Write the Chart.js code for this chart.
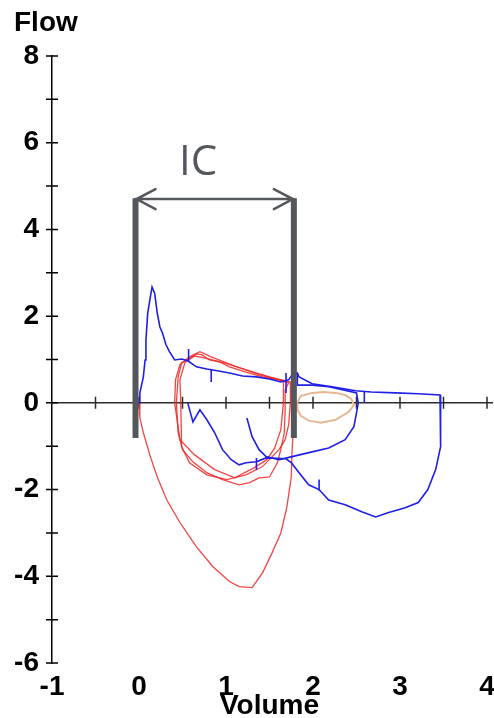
<!DOCTYPE html>
<html>
<head>
<meta charset="utf-8">
<title>Flow / Volume</title>
<script src="https://cdn.jsdelivr.net/npm/chart.js@4/dist/chart.umd.min.js"></script>
<style>
    html, body { margin: 0; padding: 0; background: #fff; }
    #wrap { width: 494px; height: 718px; }
</style>
</head>
<body>
<div id="wrap"><canvas id="loopChart" width="494" height="718"></canvas></div>
<script>
// Loops as [volume, flow] pairs
const blueMainLoop = [
    [0.00, 0.00], [0.01, 0.23], [0.05, 0.60], [0.07, 0.99], [0.08, 1.45], [0.10, 2.07],
    [0.13, 2.44], [0.15, 2.67], [0.18, 2.53], [0.21, 2.07], [0.24, 1.75], [0.27, 1.61],
    [0.31, 1.34], [0.35, 1.18], [0.41, 0.99], [0.49, 1.01], [0.56, 0.97], [0.66, 0.83],
    [0.78, 0.78], [0.90, 0.74], [1.04, 0.69], [1.19, 0.62], [1.35, 0.60], [1.50, 0.55],
    [1.63, 0.48], [1.72, 0.53], [1.76, 0.65], [1.82, 0.69], [1.84, 0.60], [1.99, 0.44],
    [2.22, 0.37], [2.49, 0.28], [2.67, 0.25], [2.95, 0.23], [3.21, 0.21], [3.46, 0.18],
    [3.47, 0.00], [3.47, -0.51], [3.46, -1.01], [3.41, -1.54], [3.32, -2.00], [3.21, -2.30],
    [3.06, -2.42], [2.87, -2.53], [2.72, -2.63], [2.56, -2.51], [2.37, -2.35], [2.18, -2.24],
    [2.07, -2.00], [1.95, -1.89], [1.84, -1.61], [1.75, -1.38], [1.69, -1.29], [1.46, -1.27],
    [1.35, -1.36], [1.23, -1.38], [1.15, -1.43], [1.06, -1.31], [0.96, -1.08], [0.87, -0.69],
    [0.78, -0.39], [0.70, -0.16], [0.62, -0.44], [0.56, 0.00]
];
const blueSmallLoop = [
    [1.24, -0.35], [1.30, -0.78], [1.38, -1.08], [1.46, -1.24], [1.61, -1.31], [1.76, -1.24],
    [1.99, -1.13], [2.18, -1.04], [2.37, -0.85], [2.47, -0.55], [2.50, -0.23], [2.52, 0.00],
    [2.50, 0.23], [2.35, 0.30], [2.18, 0.37], [1.99, 0.41], [1.82, 0.41], [1.82, 0.69]
];
// short vertical marks on the blue trace, null breaks the line between them
const blueMarks = [
    [0.57, 1.24], [0.57, 0.94], null,
    [0.83, 0.76], [0.83, 0.48], null,
    [1.35, -1.27], [1.35, -1.54], null,
    [2.07, -1.77], [2.07, -2.03], null,
    [2.59, 0.25], [2.59, 0.00], null,
    [1.69, 0.69], [1.69, 0.23]
];
const redLargeLoop = [
    [0.00, 0.00], [0.01, -0.35], [0.05, -0.69], [0.13, -1.24], [0.21, -1.71], [0.32, -2.24],
    [0.47, -2.76], [0.66, -3.32], [0.85, -3.78], [1.04, -4.12], [1.15, -4.24], [1.30, -4.26],
    [1.42, -3.92], [1.53, -3.46], [1.63, -3.00], [1.70, -2.40], [1.75, -1.71], [1.76, -1.08],
    [1.78, -0.39], [1.78, 0.00], [1.77, 0.41]
];
const redLoopA = [
    [0.43, 0.00], [0.45, 0.60], [0.49, 0.92], [0.55, 0.99], [0.66, 1.13], [0.72, 1.11],
    [0.81, 0.99], [0.93, 0.94], [1.04, 0.83], [1.23, 0.71], [1.42, 0.60], [1.61, 0.53],
    [1.72, 0.46], [1.68, 0.30], [1.68, -0.16], [1.67, -0.69], [1.63, -1.08], [1.59, -1.38],
    [1.50, -1.71], [1.38, -1.73], [1.27, -1.84], [1.15, -1.89], [0.96, -1.77], [0.78, -1.61],
    [0.62, -1.36], [0.50, -1.08], [0.45, -0.69], [0.43, 0.00]
];
const redLoopB = [
    [0.48, 0.00], [0.47, 0.53], [0.53, 0.94], [0.64, 1.08], [0.75, 1.04], [0.98, 0.92],
    [1.27, 0.74], [1.50, 0.60], [1.74, 0.48], [1.74, 0.00], [1.72, -0.51], [1.68, -0.85],
    [1.61, -1.08], [1.55, -1.20], [1.42, -1.47], [1.23, -1.66], [1.01, -1.77], [0.78, -1.66],
    [0.58, -1.38], [0.49, -1.01], [0.48, 0.00]
];
const redLoopC = [
    [0.41, 0.00], [0.42, 0.53], [0.47, 0.88], [0.58, 1.06], [0.70, 1.18], [0.83, 1.06],
    [1.10, 0.85], [1.38, 0.65], [1.66, 0.51], [1.66, 0.00], [1.63, -0.62], [1.56, -1.04],
    [1.47, -1.31], [1.32, -1.50], [1.10, -1.73], [0.87, -1.54], [0.64, -1.20], [0.47, -0.85],
    [0.41, 0.00]
];
const orangeLoop = [
    [1.82, 0.00], [1.86, 0.16], [1.99, 0.23], [2.12, 0.25], [2.26, 0.23], [2.37, 0.18],
    [2.44, 0.09], [2.47, -0.05], [2.41, -0.21], [2.26, -0.39], [2.09, -0.46], [1.95, -0.41],
    [1.86, -0.30], [1.82, -0.16], [1.82, 0.00]
];

// IC bracket: two bars and the arrow between them
const icVolumes = [-0.04, 1.78];
const icFlowRange = [-0.81, 4.72];
const icArrowFlow = 4.70;
const icLabelAt = [0.68, 5.25];

const volumeTicks = [-0.5, 0, 0.5, 1, 1.5, 2, 2.5, 3, 3.5, 4];
const flowTicks = [-6, -5, -4, -3, -2, -1, 0, 1, 2, 3, 4, 5, 6, 7, 8];

const GREY = '#54585c';
const BLUE = '#1f1fe6';
const RED = 'rgba(238, 36, 36, 0.85)';
const TAN = '#e6b993';
const FONT = "'Liberation Sans', Arial, sans-serif";
const LABEL_FONT = { family: FONT, size: 28, weight: 'bold' };

function toPoints(pairs) {
    // a null y leaves a gap in the line
    return pairs.map(p => p ? { x: p[0], y: p[1] } : { x: null, y: null });
}

function trace(pairs, color, width) {
    return {
        data: toPoints(pairs),
        showLine: true,
        borderColor: color,
        borderWidth: width,
        pointRadius: 0,
        tension: 0,
        spanGaps: false
    };
}

const icBars = icVolumes.map(v => ({
    data: [{ x: v, y: icFlowRange[0] }, { x: v, y: icFlowRange[1] }],
    showLine: true,
    borderColor: GREY,
    borderWidth: 6,
    borderCapStyle: 'butt',
    pointRadius: 0
}));

// axis line at zero flow, tick marks, arrow and captions
const flowAxesPlugin = {
    id: 'flowAxes',
    beforeDatasetsDraw(chart) {
        const { ctx, scales: { x, y } } = chart;
        const y0 = y.getPixelForValue(0);
        const xl = x.left;
        ctx.save();
        ctx.lineWidth = 1.5;
        ctx.strokeStyle = '#2b2b2b';
        ctx.beginPath();
        ctx.moveTo(xl, y0);
        ctx.lineTo(x.right + 6, y0);
        volumeTicks.forEach(v => {
            const px = x.getPixelForValue(v);
            ctx.moveTo(px, y0 - 6);
            ctx.lineTo(px, y0 + 6);
        });
        ctx.stroke();
        ctx.strokeStyle = '#000';
        ctx.beginPath();
        flowTicks.forEach(f => {
            const py = y.getPixelForValue(f);
            ctx.moveTo(xl - 6, py);
            ctx.lineTo(xl + 6, py);
        });
        ctx.stroke();
        ctx.restore();
    },
    afterDatasetsDraw(chart) {
        const { ctx, scales: { x, y } } = chart;
        const ya = y.getPixelForValue(icArrowFlow);
        const xa = x.getPixelForValue(icVolumes[0]);
        const xb = x.getPixelForValue(icVolumes[1]);
        ctx.save();
        ctx.strokeStyle = GREY;
        ctx.lineWidth = 2.5;
        ctx.lineCap = 'round';
        ctx.beginPath();
        ctx.moveTo(xa, ya);
        ctx.lineTo(xb, ya);
        ctx.moveTo(xa + 20, ya - 10);
        ctx.lineTo(xa + 1, ya);
        ctx.lineTo(xa + 20, ya + 10);
        ctx.moveTo(xb - 20, ya - 10);
        ctx.lineTo(xb - 1, ya);
        ctx.lineTo(xb - 20, ya + 10);
        ctx.stroke();

        ctx.fillStyle = GREY;
        ctx.font = "42px 'Open Sans', sans-serif";
        ctx.textAlign = 'center';
        ctx.textBaseline = 'alphabetic';
        ctx.fillText('IC', x.getPixelForValue(icLabelAt[0]), y.getPixelForValue(icLabelAt[1]));

        ctx.fillStyle = '#000';
        ctx.font = 'bold 28px ' + FONT;
        ctx.textAlign = 'left';
        ctx.fillText('Flow', 14, 31);
        ctx.restore();
    }
};

new Chart(document.getElementById('loopChart').getContext('2d'), {
    type: 'scatter',
    data: {
        datasets: [
            ...icBars,
            trace(orangeLoop, TAN, 2),
            trace(blueMarks, BLUE, 1.6),
            trace(blueSmallLoop, BLUE, 1.6),
            trace(blueMainLoop, BLUE, 1.6),
            trace(redLoopC, RED, 1.3),
            trace(redLoopB, RED, 1.3),
            trace(redLoopA, RED, 1.3),
            trace(redLargeLoop, RED, 1.3)
        ]
    },
    options: {
        responsive: false,
        animation: false,
        devicePixelRatio: 1,
        layout: { padding: { top: 56, right: 7, bottom: 0, left: 0 } },
        plugins: {
            legend: { display: false },
            tooltip: { enabled: false }
        },
        scales: {
            x: {
                type: 'linear',
                min: -1,
                max: 4,
                grid: { display: false, drawTicks: false },
                border: { display: false },
                ticks: {
                    stepSize: 1,
                    padding: 7,
                    color: '#000',
                    font: LABEL_FONT
                },
                title: {
                    display: true,
                    text: 'Volume',
                    color: '#000',
                    padding: { top: 0, bottom: -5 },
                    font: LABEL_FONT
                },
                afterFit(scale) {
                    scale.height = 55;
                    // let the last label run to the canvas edge
                    scale.paddingLeft = 0;
                    scale.paddingRight = 0;
                }
            },
            y: {
                type: 'linear',
                min: -6,
                max: 8,
                grid: { display: false, drawTicks: false },
                border: { display: true, color: '#000', width: 1.5 },
                ticks: {
                    stepSize: 1,
                    padding: 13,
                    color: '#000',
                    font: LABEL_FONT,
                    callback: v => (v % 2 === 0 ? String(v) : '')
                },
                afterFit(scale) { scale.width = 52; }
            }
        }
    },
    plugins: [flowAxesPlugin]
});
</script>
</body>
</html>
